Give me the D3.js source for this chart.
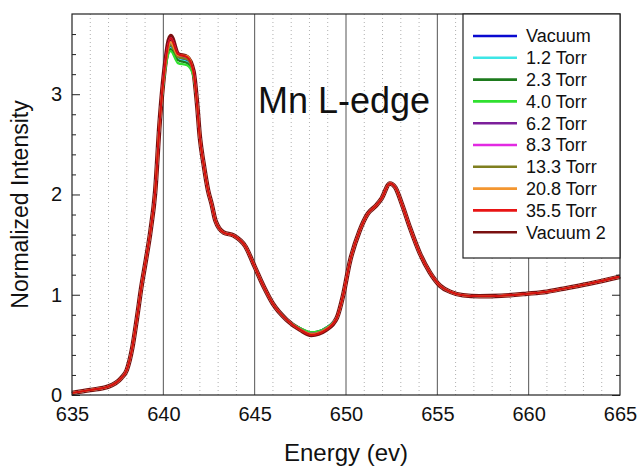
<!DOCTYPE html>
<html lang="en">
<head>
<meta charset="utf-8">
<title>Mn L-edge</title>
<script src="https://cdn.jsdelivr.net/npm/d3@7"></script>
<style>
  body { margin: 0; background: #fff; }
  svg text { font-family: Arial, "Liberation Sans", sans-serif; fill: #111; }
  .axis path { display: none; }
  .axis line { stroke: #222; }
  .axis text { font-size: 20px; }
</style>
</head>
<body>
<script>
// energy grid shared by all spectra (eV)
const energy = [635, 636, 637, 637.7, 638, 638.3, 638.55, 638.8, 639.05, 639.3, 639.55, 639.8,
  640.1, 640.4, 640.8, 641.3, 641.65, 641.85, 642.0, 642.2, 642.45, 642.65, 642.85, 643.3,
  643.85, 644.5, 645, 645.5, 646, 646.75, 647.5, 648.1, 648.9, 649.5, 649.85, 650.2, 650.75,
  651.2, 651.65, 651.95, 652.4, 652.7, 653.05, 653.5, 654.05, 654.6, 655.15, 655.7, 656.4,
  657.3, 658.5, 659.9, 661, 661.9, 663.3, 665];

// common normalized intensity (all traces coincide outside the L3 peak and the valley)
const baseIntensity = [0.02, 0.05, 0.085, 0.17, 0.25, 0.47, 0.76, 1.08, 1.35, 1.64, 2.02, 2.72,
  3.30, 3.57, 3.40, 3.37, 3.23, 2.90, 2.57, 2.31, 2.04, 1.90, 1.74, 1.62,
  1.59, 1.48, 1.28, 1.08, 0.91, 0.75, 0.65, 0.60, 0.65, 0.77, 1.00, 1.32, 1.64,
  1.81, 1.89, 1.96, 2.11, 2.07, 1.91, 1.67, 1.41, 1.22, 1.09, 1.03, 0.995,
  0.985, 0.99, 1.01, 1.03, 1.06, 1.11, 1.18];

const seriesNames = ["Vacuum", "1.2 Torr", "2.3 Torr", "4.0 Torr", "6.2 Torr", "8.3 Torr",
  "13.3 Torr", "20.8 Torr", "35.5 Torr", "Vacuum 2"];
const seriesColors = ["#0a0ad0", "#3ee6e6", "#1d7a1d", "#2fe02f", "#7c1f9a", "#e22ae2",
  "#7f7f1f", "#f39630", "#e81414", "#7a1010"];
// stacking order of the traces (Vacuum 2 sits underneath, 35.5 Torr on top)
const drawOrder = [9, 0, 1, 2, 3, 4, 5, 6, 7, 8];

// where the traces differ: L3 peak and the valley
const peakEnergy = [640.1, 640.4, 640.8, 641.3, 641.65];
const peakValues = [
  [3.26, 3.47, 3.36, 3.33, 3.20],
  [3.26, 3.46, 3.35, 3.32, 3.20],
  [3.25, 3.45, 3.34, 3.31, 3.19],
  [3.24, 3.43, 3.31, 3.29, 3.18],
  [3.28, 3.52, 3.38, 3.35, 3.22],
  [3.30, 3.56, 3.40, 3.36, 3.23],
  [3.27, 3.49, 3.37, 3.35, 3.21],
  [3.28, 3.52, 3.39, 3.38, 3.22],
  [3.30, 3.56, 3.40, 3.37, 3.23],
  [3.30, 3.58, 3.40, 3.37, 3.23]
];
const valleyEnergy = [647.5, 648.1, 648.9];
const valleyValues = [
  [0.66, 0.62, 0.67],
  [0.66, 0.62, 0.67],
  [0.665, 0.625, 0.67],
  [0.665, 0.625, 0.67],
  [0.655, 0.61, 0.66],
  [0.655, 0.61, 0.66],
  [0.655, 0.61, 0.66],
  [0.65, 0.605, 0.655],
  [0.65, 0.60, 0.65],
  [0.65, 0.60, 0.65]
];

const xTicks = [635, 640, 645, 650, 655, 660, 665];
const yTicks = [0, 1, 2, 3];
const yMinorTicks = [0.2, 0.4, 0.6, 0.8, 1.2, 1.4, 1.6, 1.8, 2.2, 2.4, 2.6, 2.8, 3.2, 3.4, 3.6];
const xGridMinor = d3.range(636, 665).filter(d => d % 5 !== 0);
const xGridMajor = [640, 645, 650, 655, 660];

const W = 639, H = 472;
const margin = {top: 14, right: 19, bottom: 77, left: 72};
const w = W - margin.left - margin.right,
      h = H - margin.top - margin.bottom;

const x = d3.scaleLinear().domain([635, 665]).range([0, w]);
const y = d3.scaleLinear().domain([0, 3.8]).range([h, 0]);

const svg = d3.select("body").append("svg")
    .attr("width", W).attr("height", H);
const g = svg.append("g")
    .attr("transform", `translate(${margin.left},${margin.top})`);

// vertical grid
g.selectAll(".gminor").data(xGridMinor).join("line")
    .attr("x1", d => x(d)).attr("x2", d => x(d))
    .attr("y1", 0).attr("y2", h)
    .attr("stroke", "#b0b0b0").attr("stroke-width", 1)
    .attr("stroke-dasharray", "1,3");
g.selectAll(".gmajor").data(xGridMajor).join("line")
    .attr("x1", d => x(d)).attr("x2", d => x(d))
    .attr("y1", 0).attr("y2", h)
    .attr("stroke", "#555").attr("stroke-width", 1);

// spectra
const series = seriesNames.map((name, i) => ({
  name, color: seriesColors[i],
  values: energy.map((e, k) => {
    let v = baseIntensity[k];
    const p = peakEnergy.indexOf(e);
    if (p >= 0) v = peakValues[i][p];
    const q = valleyEnergy.indexOf(e);
    if (q >= 0) v = valleyValues[i][q];
    return [e, v];
  })
}));

const line = d3.line()
    .x(d => x(d[0])).y(d => y(d[1]))
    .curve(d3.curveMonotoneX);

g.selectAll(".spec").data(drawOrder.map(i => series[i])).join("path")
    .attr("fill", "none")
    .attr("stroke", d => d.name === "35.5 Torr" ? "#d41010" : d.color)
    .attr("stroke-width", d => d.name === "Vacuum 2" ? 4.6 : 2.2)
    .attr("stroke-linejoin", "round")
    .attr("d", d => line(d.values));

// axes
g.append("g").attr("class", "axis")
    .attr("transform", `translate(0,${h})`)
    .call(d3.axisBottom(x).tickValues(xTicks).tickFormat(d3.format("d"))
      .tickSize(0).tickPadding(12));
g.append("g").attr("class", "axis")
    .call(d3.axisLeft(y).tickValues(yTicks).tickFormat(d3.format("d"))
      .tickSizeInner(-8).tickSizeOuter(0).tickPadding(10));
g.append("g").attr("class", "axis")
    .call(d3.axisLeft(y).tickValues(yMinorTicks).tickFormat("")
      .tickSizeInner(-4).tickSizeOuter(0));
g.append("g").attr("class", "axis")
    .attr("transform", `translate(${w},0)`)
    .call(d3.axisRight(y).tickValues(yTicks).tickFormat("")
      .tickSizeInner(-8).tickSizeOuter(0));
g.append("g").attr("class", "axis")
    .attr("transform", `translate(${w},0)`)
    .call(d3.axisRight(y).tickValues(yMinorTicks).tickFormat("")
      .tickSizeInner(-4).tickSizeOuter(0));

// frame
g.append("rect")
    .attr("width", w).attr("height", h)
    .attr("fill", "none").attr("stroke", "#222").attr("stroke-width", 1.2);

// legend
const lg = g.append("g").attr("transform", `translate(${463 - margin.left},0)`);
lg.append("rect")
    .attr("width", 620 - 463).attr("height", 244)
    .attr("fill", "#fff").attr("stroke", "#222").attr("stroke-width", 1.2);
const rows = lg.selectAll(".row").data(series).join("g")
    .attr("transform", (d, i) => `translate(0,${22 + i * 21.8})`);
rows.append("line")
    .attr("x1", 10).attr("x2", 54)
    .attr("stroke", d => d.color).attr("stroke-width", 2.6);
rows.append("text")
    .attr("x", 63).attr("dy", "0.35em")
    .style("font-size", "18px")
    .text(d => d.name);

// annotation
g.append("text")
    .attr("x", 258 - margin.left).attr("y", 113 - margin.top)
    .style("font-size", "36px")
    .text("Mn L-edge");

// axis titles
svg.append("text")
    .attr("x", margin.left + w / 2).attr("y", 461)
    .attr("text-anchor", "middle")
    .style("font-size", "24px")
    .text("Energy (ev)");
svg.append("text")
    .attr("transform", `translate(28,${margin.top + h / 2}) rotate(-90)`)
    .attr("text-anchor", "middle")
    .style("font-size", "23px")
    .text("Normalized Intensity");
</script>
</body>
</html>
